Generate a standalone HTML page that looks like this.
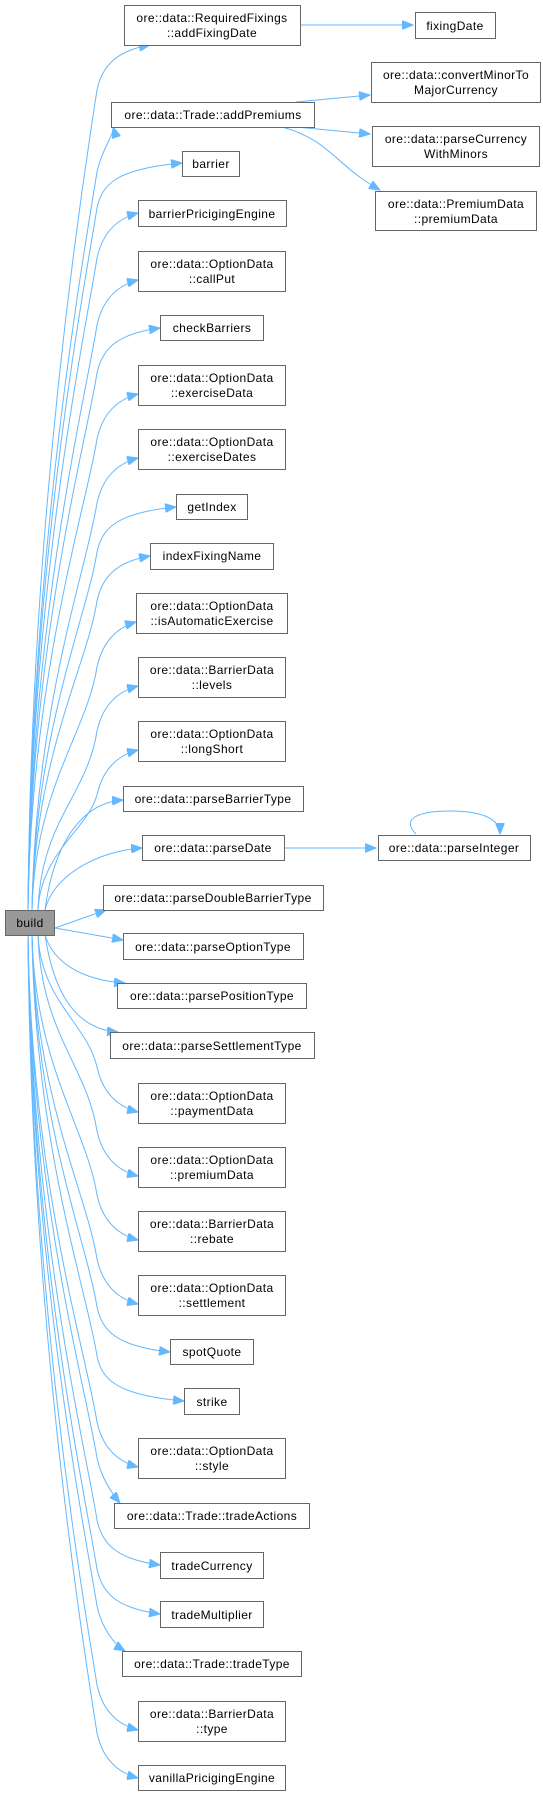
<!DOCTYPE html>
<html><head><meta charset="utf-8">
<style>
html,body{margin:0;padding:0;background:#fff;}
svg{display:block;}
text{font-family:"Liberation Sans",Arial,sans-serif;font-size:12px;letter-spacing:0.4px;fill:#000;}
rect{fill:#fff;stroke:#666;stroke-width:1;}
path.e{fill:none;stroke:#63b8ff;stroke-width:1;}
</style></head>
<body>
<svg id="s" width="543" height="1797" viewBox="0 0 543 1797" xmlns="http://www.w3.org/2000/svg">
<defs>
<marker id="a" markerWidth="12" markerHeight="9" refX="11" refY="4.5" orient="auto" markerUnits="userSpaceOnUse">
<path d="M0,0 L11,4.5 L0,9 z" fill="#63b8ff" stroke="#63b8ff"/>
</marker>
</defs>
<g id="edges"></g>
<path class="e" marker-end="url(#a)" d="M288,25 L413,25"/>
<path class="e" marker-end="url(#a)" d="M296,102 L370,95"/>
<path class="e" marker-end="url(#a)" d="M296,127 L370,134"/>
<path class="e" marker-end="url(#a)" d="M282,127 C330,140 335,165 380,190"/>
<path class="e" marker-end="url(#a)" d="M284,848 L376,848"/>
<path class="e" marker-end="url(#a)" d="M416,834 C400,818 420,811 450,811 C480,811 500,818 500,834"/>
<g id="nodes">
<rect x="5.5" y="910.5" width="49" height="25" style="fill:#999"/><text x="30" y="927" text-anchor="middle">build</text>
<rect x="124.5" y="5.5" width="176" height="40"/><text x="212" y="22" text-anchor="middle">ore::data::RequiredFixings</text><text x="212" y="37" text-anchor="middle">::addFixingDate</text>
<rect x="415.5" y="12.5" width="80" height="26"/><text x="455" y="30" text-anchor="middle">fixingDate</text>
<rect x="371.5" y="62.5" width="169" height="40"/><text x="456" y="79" text-anchor="middle">ore::data::convertMinorTo</text><text x="456" y="94" text-anchor="middle">MajorCurrency</text>
<rect x="111.5" y="102.5" width="203" height="25"/><text x="213" y="119" text-anchor="middle">ore::data::Trade::addPremiums</text>
<rect x="372.5" y="126.5" width="167" height="40"/><text x="456" y="143" text-anchor="middle">ore::data::parseCurrency</text><text x="456" y="158" text-anchor="middle">WithMinors</text>
<rect x="375.5" y="191.5" width="161" height="39"/><text x="456" y="208" text-anchor="middle">ore::data::PremiumData</text><text x="456" y="223" text-anchor="middle">::premiumData</text>
<rect x="182.5" y="151.5" width="57" height="25"/><text x="211" y="168" text-anchor="middle">barrier</text>
<rect x="138.5" y="200.5" width="148" height="26"/><text x="212" y="218" text-anchor="middle">barrierPricigingEngine</text>
<rect x="138.5" y="251.5" width="147" height="40"/><text x="212" y="268" text-anchor="middle">ore::data::OptionData</text><text x="212" y="283" text-anchor="middle">::callPut</text>
<rect x="160.5" y="315.5" width="103" height="25"/><text x="212" y="332" text-anchor="middle">checkBarriers</text>
<rect x="138.5" y="365.5" width="147" height="40"/><text x="212" y="382" text-anchor="middle">ore::data::OptionData</text><text x="212" y="397" text-anchor="middle">::exerciseData</text>
<rect x="138.5" y="429.5" width="147" height="40"/><text x="212" y="446" text-anchor="middle">ore::data::OptionData</text><text x="212" y="461" text-anchor="middle">::exerciseDates</text>
<rect x="176.5" y="494.5" width="71" height="25"/><text x="212" y="511" text-anchor="middle">getIndex</text>
<rect x="150.5" y="543.5" width="123" height="26"/><text x="212" y="560" text-anchor="middle">indexFixingName</text>
<rect x="136.5" y="593.5" width="151" height="40"/><text x="212" y="610" text-anchor="middle">ore::data::OptionData</text><text x="212" y="625" text-anchor="middle">::isAutomaticExercise</text>
<rect x="138.5" y="657.5" width="147" height="40"/><text x="212" y="674" text-anchor="middle">ore::data::BarrierData</text><text x="212" y="689" text-anchor="middle">::levels</text>
<rect x="138.5" y="721.5" width="147" height="40"/><text x="212" y="738" text-anchor="middle">ore::data::OptionData</text><text x="212" y="753" text-anchor="middle">::longShort</text>
<rect x="123.5" y="786.5" width="180" height="25"/><text x="213" y="803" text-anchor="middle">ore::data::parseBarrierType</text>
<rect x="142.5" y="835.5" width="142" height="25"/><text x="213" y="852" text-anchor="middle">ore::data::parseDate</text>
<rect x="378.5" y="835.5" width="152" height="25"/><text x="454" y="852" text-anchor="middle">ore::data::parseInteger</text>
<rect x="103.5" y="885.5" width="220" height="25"/><text x="213" y="902" text-anchor="middle">ore::data::parseDoubleBarrierType</text>
<rect x="123.5" y="933.5" width="180" height="26"/><text x="213" y="951" text-anchor="middle">ore::data::parseOptionType</text>
<rect x="117.5" y="983.5" width="189" height="25"/><text x="212" y="1000" text-anchor="middle">ore::data::parsePositionType</text>
<rect x="110.5" y="1032.5" width="204" height="26"/><text x="212" y="1050" text-anchor="middle">ore::data::parseSettlementType</text>
<rect x="138.5" y="1083.5" width="147" height="40"/><text x="212" y="1100" text-anchor="middle">ore::data::OptionData</text><text x="212" y="1115" text-anchor="middle">::paymentData</text>
<rect x="138.5" y="1147.5" width="147" height="40"/><text x="212" y="1164" text-anchor="middle">ore::data::OptionData</text><text x="212" y="1179" text-anchor="middle">::premiumData</text>
<rect x="138.5" y="1211.5" width="147" height="40"/><text x="212" y="1228" text-anchor="middle">ore::data::BarrierData</text><text x="212" y="1243" text-anchor="middle">::rebate</text>
<rect x="138.5" y="1275.5" width="147" height="40"/><text x="212" y="1292" text-anchor="middle">ore::data::OptionData</text><text x="212" y="1307" text-anchor="middle">::settlement</text>
<rect x="170.5" y="1339.5" width="83" height="25"/><text x="212" y="1356" text-anchor="middle">spotQuote</text>
<rect x="184.5" y="1388.5" width="55" height="26"/><text x="212" y="1406" text-anchor="middle">strike</text>
<rect x="138.5" y="1438.5" width="147" height="40"/><text x="212" y="1455" text-anchor="middle">ore::data::OptionData</text><text x="212" y="1470" text-anchor="middle">::style</text>
<rect x="114.5" y="1503.5" width="195" height="25"/><text x="212" y="1520" text-anchor="middle">ore::data::Trade::tradeActions</text>
<rect x="160.5" y="1552.5" width="103" height="26"/><text x="212" y="1570" text-anchor="middle">tradeCurrency</text>
<rect x="160.5" y="1601.5" width="103" height="26"/><text x="212" y="1619" text-anchor="middle">tradeMultiplier</text>
<rect x="122.5" y="1651.5" width="179" height="25"/><text x="212" y="1668" text-anchor="middle">ore::data::Trade::tradeType</text>
<rect x="138.5" y="1701.5" width="147" height="40"/><text x="212" y="1718" text-anchor="middle">ore::data::BarrierData</text><text x="212" y="1733" text-anchor="middle">::type</text>
<rect x="138.5" y="1765.5" width="147" height="25"/><text x="212" y="1782" text-anchor="middle">vanillaPricigingEngine</text>
</g>
</svg>
<script>
(function(){
var T=[[150,45],[113,127],[182,163],[138,213],[138,280],[160,328],[138,394],[138,458],[176,507],[150,556],[136,622],[138,686],[138,750],[123,800],[142,848],[106,910],
[123,940],[125,983],[118,1032],[138,1112],[138,1176],[138,1240],[138,1304],[170,1352],[184,1401],[138,1467],[120,1503],[160,1565],[160,1614],[125,1651],[138,1730],[138,1778]];
var g=document.getElementById('edges'),h='';
T.forEach(function(p){
 var tx=p[0],ty=p[1],d,up=ty<910,dy=up?910-ty:ty-935,s=up?-1:1;
 if((up&&dy<40)||(!up&&dy<15)){d='M55,'+(up?920:928)+' L'+tx+','+ty;}
 else if(dy<130){
  var sx=up?45:45,sy=up?910:935;
  d='M'+sx+','+sy+' C'+(sx+8)+','+(ty-s*dy*0.45)+' '+(tx-45)+','+(ty-s*3)+' '+tx+','+ty;
 } else {
  var sx=dy>500?28:(dy>250?32:38),sy=up?910:935;
  var off=45, mx=97, my=ty-s*off;
  var c2=ty-s*Math.min(110,dy*0.5);
  d='M'+sx+','+sy+' C'+(sx+3)+','+(sy+s*0.5*(dy-off))+' '+(mx-10)+','+c2+' '+mx+','+my+
    ' C'+(mx+5)+','+(ty-s*22)+' '+(mx+18)+','+(ty-s*6)+' '+tx+','+ty;
 }
 h+='<path class="e" marker-end="url(#a)" d="'+d+'"/>';
});
g.innerHTML=h;
})();
</script>
</body></html>
